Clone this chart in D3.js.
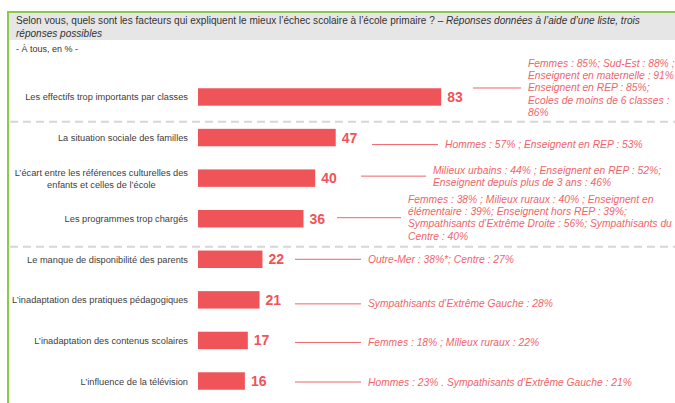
<!DOCTYPE html>
<html>
<head>
<meta charset="utf-8">
<script src="https://cdn.jsdelivr.net/npm/d3@7"></script>
<style>
  body { margin: 0; background: #fff; }
  svg { display: block; font-family: "Liberation Sans", Arial, sans-serif; }
</style>
</head>
<body>
<div id="chart"></div>
<script>
// Data
var categories = [
  ["Les effectifs trop importants par classes"],
  ["La situation sociale des familles"],
  ["L’écart entre les références culturelles des", "enfants et celles de l’école"],
  ["Les programmes trop chargés"],
  ["Le manque de disponibilité des parents"],
  ["L’inadaptation des pratiques pédagogiques"],
  ["L’inadaptation des contenus scolaires"],
  ["L’influence de la télévision"]
];
var values = [83, 47, 40, 36, 22, 21, 17, 16];
var notes = [
  ["Femmes : 85%; Sud-Est : 88% ;", "Enseignent en maternelle : 91%", "Enseignent en REP : 85%;", "Ecoles de moins de 6 classes :", "86%"],
  ["Hommes : 57% ; Enseignent en REP : 53%"],
  ["Milieux urbains : 44% ; Enseignent en REP : 52%;", "Enseignent depuis plus de 3 ans : 46%"],
  ["Femmes : 38% ; Milieux ruraux : 40% ; Enseignent en", "élémentaire : 39%; Enseignent hors REP : 39%;", "Sympathisants d’Extrême Droite : 56%; Sympathisants du", "Centre : 40%"],
  ["Outre-Mer : 38%*; Centre : 27%"],
  ["Sympathisants d’Extrême Gauche : 28%"],
  ["Femmes : 18% ; Milieux ruraux : 22%"],
  ["Hommes : 23% . Sympathisants d’Extrême Gauche : 21%"]
];
// separators drawn after these category indexes
var groupBreaks = [0, 3];

// layout of the callouts and separators (pixels)
var noteTextX = [528, 445, 433, 408, 368, 368, 368, 368];
var noteLineX = [473, 372, 361, 337, 295, 295, 295, 295];
var noteDy = [-9, 7, -2, -1, 0, 4, 2, 1];
var breakDy = [4.5, 7.7];

var svgWidth = 675;
var svgHeight = 403;

var barColor = "#ef5459";
var noteColor = "#f0646a";
var green = "#8cc84b";

var svg = d3.select("#chart")
  .append("svg")
  .attr("width", svgWidth)
  .attr("height", svgHeight);

// Header band
svg.append("rect")
  .attr("x", 8).attr("y", 12)
  .attr("width", svgWidth - 8).attr("height", 28)
  .attr("fill", "#e6e6e6");

svg.append("line")
  .attr("x1", 7).attr("x2", svgWidth)
  .attr("y1", 12).attr("y2", 12)
  .attr("stroke", green).attr("stroke-width", 2);

svg.append("line")
  .attr("x1", 8).attr("x2", 8)
  .attr("y1", 11).attr("y2", svgHeight)
  .attr("stroke", green).attr("stroke-width", 2);

var title = svg.append("text")
  .attr("x", 16).attr("y", 24)
  .attr("font-size", 10.05)
  .attr("fill", "#333");
title.append("tspan")
  .text("Selon vous, quels sont les facteurs qui expliquent le mieux l’échec scolaire à l’école primaire ? – ");
title.append("tspan")
  .attr("font-style", "italic")
  .text("Réponses données à l’aide d’une liste, trois");

svg.append("text")
  .attr("x", 16).attr("y", 37)
  .attr("font-size", 10.05)
  .attr("font-style", "italic")
  .attr("fill", "#333")
  .text("réponses possibles");

svg.append("text")
  .attr("x", 16).attr("y", 52)
  .attr("font-size", 9)
  .attr("fill", "#333")
  .text("- À tous, en % -");

// Scales
var xScale = d3.scaleLinear()
  .domain([0, 100])
  .range([198, 198 + 293]);

var yScale = d3.scaleBand()
  .domain(d3.range(values.length))
  .range([76.7, 401.3])
  .paddingInner(0.57)
  .paddingOuter(0.285);

var bandMid = function(i) { return yScale(i) + yScale.bandwidth() / 2; };

// Group separators
groupBreaks.forEach(function(i, k) {
  var y = (bandMid(i) + bandMid(i + 1)) / 2 + breakDy[k];
  svg.append("line")
    .attr("x1", 10).attr("x2", svgWidth)
    .attr("y1", y).attr("y2", y)
    .attr("stroke", "#d6d6d6")
    .attr("stroke-width", 2)
    .attr("stroke-dasharray", "8,5");
});

// Bars
svg.selectAll("rect.bar")
  .data(values)
  .enter()
  .append("rect")
  .attr("class", "bar")
  .attr("x", xScale(0))
  .attr("y", function(d, i) { return yScale(i); })
  .attr("width", function(d) { return xScale(d) - xScale(0); })
  .attr("height", yScale.bandwidth())
  .attr("fill", barColor);

// Value labels
svg.selectAll("text.value")
  .data(values)
  .enter()
  .append("text")
  .attr("class", "value")
  .attr("x", function(d) { return xScale(d) + 6; })
  .attr("y", function(d, i) { return bandMid(i) + 5; })
  .attr("font-size", 14)
  .attr("font-weight", "bold")
  .attr("fill", barColor)
  .text(function(d) { return d; });

// Category labels
var catLabels = svg.selectAll("text.cat")
  .data(categories)
  .enter()
  .append("text")
  .attr("class", "cat")
  .attr("font-size", 9.25)
  .attr("fill", "#404040");

catLabels.each(function(lines, i) {
  var t = d3.select(this);
  var lh = 12;
  var y0 = bandMid(i) + 3.5 - (lines.length - 1) * lh / 2;
  lines.forEach(function(line, k) {
    t.append("tspan").attr("y", y0 + k * lh).text(line);
  });
  // right aligned block, lines centred inside it
  var widths = [];
  t.selectAll("tspan").each(function() { widths.push(this.getComputedTextLength()); });
  var maxW = d3.max(widths);
  t.attr("text-anchor", "middle")
    .selectAll("tspan").attr("x", 188 - maxW / 2);
});

// Callouts
notes.forEach(function(lines, i) {
  var cy = bandMid(i) + noteDy[i];
  svg.append("line")
    .attr("x1", noteLineX[i]).attr("x2", noteTextX[i] - 7)
    .attr("y1", cy).attr("y2", cy)
    .attr("stroke", noteColor)
    .attr("stroke-width", 1);
  var lh = 12.2;
  var y0 = cy + 3.5 - (lines.length - 1) * lh / 2;
  var t = svg.append("text")
    .attr("font-size", 10.3)
    .attr("font-style", "italic")
    .attr("fill", noteColor);
  lines.forEach(function(line, k) {
    t.append("tspan")
      .attr("x", noteTextX[i])
      .attr("y", y0 + k * lh)
      .text(line);
  });
});
</script>
</body>
</html>
